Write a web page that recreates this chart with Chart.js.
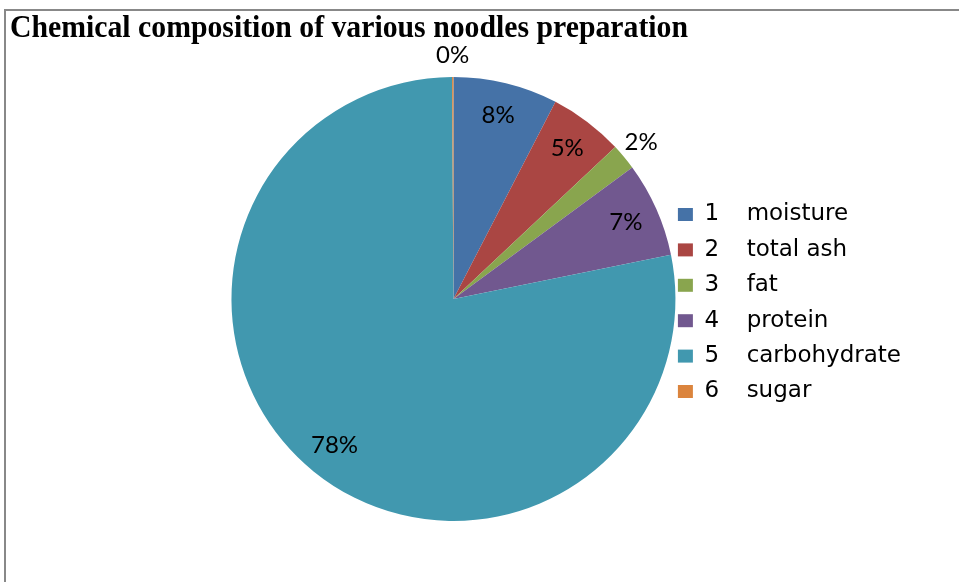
<!DOCTYPE html>
<html>
<head>
    <title>Chemical composition of various noodles preparation</title>
    <script src="https://cdn.jsdelivr.net/npm/chart.js@4"></script>
    <style>
        body { margin: 0; background: #fff; }
        #frame { position: absolute; left: 4px; top: 9px; width: 960px; height: 580px;
                 border-left: 2px solid #888; border-top: 2px solid #888; }
        #chart { position: absolute; left: 0; top: 0; }
    </style>
</head>
<body>
    <div id="frame"></div>
    <canvas id="chart" width="959" height="582"></canvas>

    <script>
        const numbers = ['1', '2', '3', '4', '5', '6'];
        const components = ['moisture', 'total ash', 'fat', 'protein', 'carbohydrate', 'sugar'];
        const values = [7.6, 5.4, 1.9, 6.9, 78.1, 0.1];
        const colors = ['#4572A7', '#AA4643', '#89A54E', '#71588F', '#4198AF', '#DB843D'];

        // percent labels on the slices, small ones go outside
        const sliceLabels = {
            id: 'sliceLabels',
            afterDatasetsDraw(chart) {
                const ctx = chart.ctx;
                const meta = chart.getDatasetMeta(0);
                const total = values.reduce((a, b) => a + b, 0);
                ctx.save();
                ctx.font = '24px Lato';
                ctx.fillStyle = '#000';
                ctx.textAlign = 'center';
                ctx.textBaseline = 'middle';
                meta.data.forEach((arc, i) => {
                    const pct = Math.round(values[i] / total * 100);
                    const mid = (arc.startAngle + arc.endAngle) / 2;
                    const r = pct < 3 ? arc.outerRadius * 1.1 : arc.outerRadius * 0.85;
                    ctx.fillText(pct + '%', arc.x + Math.cos(mid) * r, arc.y + Math.sin(mid) * r);
                });
                ctx.restore();
            }
        };

        // title sits at the left edge, not over the pie area
        const titleLeft = {
            id: 'titleLeft',
            afterLayout(chart) {
                chart.titleBlock.left = 10;
                chart.titleBlock.right = 688;
            }
        };

        const ctx = document.getElementById('chart').getContext('2d');
        const chart = new Chart(ctx, {
            type: 'pie',
            data: {
                labels: components,
                datasets: [{
                    data: values,
                    backgroundColor: colors,
                    borderWidth: 0
                }]
            },
            options: {
                responsive: false,
                animation: false,
                layout: { padding: { top: 0, bottom: 61, left: 231, right: 48 } },
                plugins: {
                    tooltip: { enabled: false },
                    title: {
                        display: true,
                        text: 'Chemical composition of various noodles preparation',
                        align: 'start',
                        color: '#000',
                        font: { family: 'Liberation Serif', size: 32, weight: 'bold', lineHeight: 1.2 },
                        padding: { top: 10, bottom: 28.6 }
                    },
                    legend: {
                        position: 'right',
                        align: 'start',
                        title: { display: true, text: '', font: { size: 10, lineHeight: '10px' }, padding: { top: 191, bottom: 0 } },
                        labels: {
                            boxWidth: 15,
                            boxHeight: 13,
                            padding: 2,
                            color: '#000',
                            font: { family: 'DejaVu Sans', size: 23, lineHeight: '33.4px' },
                            generateLabels(chart) {
                                return components.map((name, i) => ({
                                    text: [numbers[i] + '\u2003\u2009' + name],
                                    fillStyle: colors[i],
                                    strokeStyle: colors[i],
                                    fontColor: '#000',
                                    lineWidth: 0,
                                    hidden: false,
                                    index: i
                                }));
                            }
                        }
                    }
                }
            },
            plugins: [sliceLabels, titleLeft]
        });
    </script>
</body>
</html>
